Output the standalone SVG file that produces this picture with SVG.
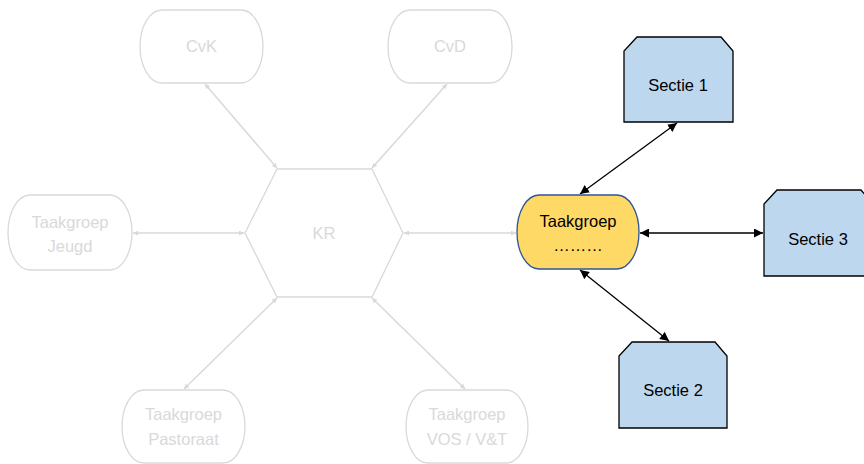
<svg xmlns="http://www.w3.org/2000/svg" width="864" height="464" viewBox="0 0 864 464">
<defs>
<marker id="ag" viewBox="0 0 10 10" refX="10" refY="5" markerWidth="5" markerHeight="5" orient="auto-start-reverse" markerUnits="userSpaceOnUse"><path d="M0,0 L10,5 L0,10 z" fill="#D9D9D9"/></marker>
<marker id="ab" viewBox="0 0 10 10" refX="10" refY="5" markerWidth="9" markerHeight="9" orient="auto-start-reverse" markerUnits="userSpaceOnUse"><path d="M0,0 L10,5 L0,10 z" fill="#000"/></marker>
<style>
.g{fill:#fff;stroke:#D9D9D9;stroke-width:1.3}
.gt{fill:#D9D9D9;font-family:"Liberation Sans",Arial,sans-serif;font-size:16.5px;text-anchor:middle}
.t{fill:#000;font-family:"Liberation Sans",Arial,sans-serif;font-size:16.5px;text-anchor:middle}
.s{fill:#BDD7EE;stroke:#000;stroke-width:1.3}
.cg{stroke:#D9D9D9;stroke-width:1.5;fill:none;marker-start:url(#ag);marker-end:url(#ag)}
.cb{stroke:#000;stroke-width:1.3;fill:none;marker-start:url(#ab);marker-end:url(#ab)}
</style>
</defs>
<g id="connectors">
<line class="cg" x1="205" y1="84" x2="277" y2="168"/>
<line class="cg" x1="447" y1="84" x2="372" y2="168"/>
<line class="cg" x1="133" y1="233" x2="244" y2="233"/>
<line class="cg" x1="404" y1="233" x2="516" y2="233"/>
<line class="cg" x1="277" y1="298" x2="184" y2="389"/>
<line class="cg" x1="372" y1="298" x2="465" y2="389"/>
<line class="cb" x1="677" y1="123" x2="580" y2="194"/>
<line class="cb" x1="640" y1="233" x2="763" y2="233"/>
<line class="cb" x1="580" y1="270" x2="669" y2="341"/>
</g>
<g id="cvk"><path class="g" d="M162,10 H241 A22,36.5 0 0 1 241,83 H162 A22,36.5 0 0 1 162,10 Z"/><text class="gt" x="201.5" y="52">CvK</text></g>
<g id="cvd"><path class="g" d="M410,10 H490 A22,36.5 0 0 1 490,83 H410 A22,36.5 0 0 1 410,10 Z"/><text class="gt" x="450" y="52">CvD</text></g>
<g id="jeugd"><path class="g" d="M30,195 H110 A22,37.5 0 0 1 110,270 H30 A22,37.5 0 0 1 30,195 Z"/><text class="gt" x="70" y="228">Taakgroep</text><text class="gt" x="70" y="252">Jeugd</text></g>
<g id="kr"><polygon class="g" points="245,233 277,169 372,169 403,233 372,297 277,297"/><text class="gt" x="324" y="239">KR</text></g>
<g id="pastoraat"><path class="g" d="M144,390 H223 A22,36.5 0 0 1 223,463 H144 A22,36.5 0 0 1 144,390 Z"/><text class="gt" x="183.5" y="420">Taakgroep</text><text class="gt" x="183.5" y="445">Pastoraat</text></g>
<g id="vos"><path class="g" d="M428,390 H506 A22,36.5 0 0 1 506,463 H428 A22,36.5 0 0 1 428,390 Z"/><text class="gt" x="467" y="420">Taakgroep</text><text class="gt" x="467" y="445">VOS / V&amp;T</text></g>
<g id="taakgroep"><path d="M539,195 H617 A22,37 0 0 1 617,269 H539 A22,37 0 0 1 539,195 Z" fill="#FFD966" stroke="#2F5597" stroke-width="1.3"/><text class="t" x="578" y="227">Taakgroep</text><text class="t" x="578" y="251">………</text></g>
<g id="sectie1"><polygon class="s" points="637,37 721,37 733,51 733,122 624,122 624,51"/><text class="t" x="678" y="91">Sectie 1</text></g>
<g id="sectie3"><polygon class="s" points="777,190 861,190 873,204 873,276 764,276 764,204"/><text class="t" x="818" y="245">Sectie 3</text></g>
<g id="sectie2"><polygon class="s" points="632,342 715,342 727,356 727,428 619,428 619,356"/><text class="t" x="673" y="396">Sectie 2</text></g>
</svg>
